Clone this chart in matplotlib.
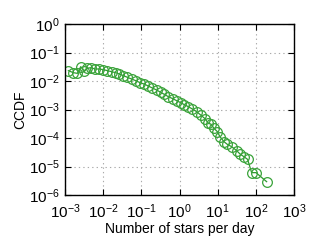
import matplotlib
matplotlib.use("Agg")
import matplotlib.pyplot as plt
import numpy as np

plt.rcParams['font.family'] = ['Liberation Sans', 'DejaVu Sans']
plt.rcParams['mathtext.fontset'] = 'custom'
plt.rcParams['mathtext.rm'] = 'Liberation Sans'

x = [1.22e-3, 1.65e-3, 2.1e-3, 2.57e-3, 3.15e-3, 3.85e-3, 4.7e-3, 6.1e-3, 7.8e-3,
     0.0101, 0.0129, 0.0167, 0.0213, 0.0265, 0.0338, 0.043, 0.0558, 0.0711, 0.0923,
     0.1175, 0.152, 0.194, 0.252, 0.321, 0.401, 0.51, 0.662, 0.843, 1.07, 1.34,
     1.70, 2.17, 2.82, 3.59, 4.66, 5.69, 6.56, 8.02, 9.8, 11.5, 14.7, 17.9, 23.3,
     31.5, 38.5, 49, 61, 77.6, 101, 192]
y = [0.0231, 0.0196, 0.0186, 0.0318, 0.0231, 0.0278, 0.0294, 0.0264, 0.0264,
     0.025, 0.0231, 0.0212, 0.0196, 0.0176, 0.0154, 0.0135, 0.0117, 0.0103, 0.00875,
     0.00785, 0.00668, 0.00568, 0.00483, 0.0040, 0.0034, 0.00282, 0.0024, 0.00204,
     0.00174, 0.00148, 0.00126, 0.00104, 8.4e-4, 6.4e-4, 4.77e-4, 3.27e-4, 3.1e-4,
     2.18e-4, 1.67e-4, 1.11e-4, 7.4e-5, 6.0e-5, 4.97e-5, 3.6e-5, 2.75e-5, 2.2e-5,
     1.78e-5, 6.1e-6, 6.1e-6, 2.94e-6]

fig = plt.figure(figsize=(3.27, 2.45), dpi=100)
ax = fig.add_axes([0.199, 0.204, 0.70, 0.698])
ax.plot(x, y, '-', color='#2e9a2e', lw=0.9, marker='o', ms=7.0,
        mfc='none', mec='#3aa33a', mew=0.9)
ax.set_xscale('log')
ax.set_yscale('log')
ax.set_xlim(1e-3, 1e3)
ax.set_ylim(1e-6, 1e0)
ax.set_xticks([1e-3, 1e-2, 1e-1, 1e0, 1e1, 1e2, 1e3])
ax.set_yticks([1e-6, 1e-5, 1e-4, 1e-3, 1e-2, 1e-1, 1e0])
ax.grid(True, which='major', linestyle=(0, (1.2, 2.8)), color='#aaaaaa', lw=0.8)
ax.tick_params(which='both', direction='in', top=True, right=True, labelsize=11)
ax.tick_params(axis='x', which='major', pad=5)
ax.tick_params(axis='y', which='major', pad=4)
ax.tick_params(which='major', length=4, width=0.8)
ax.tick_params(which='minor', length=2, width=0.6)
for s in ax.spines.values():
    s.set_linewidth(1.0)
ax.set_xlabel('Number of stars per day', fontsize=10, labelpad=1)
ax.set_ylabel('CCDF', fontsize=10, labelpad=1)
fig.savefig('out.png', dpi=100)
